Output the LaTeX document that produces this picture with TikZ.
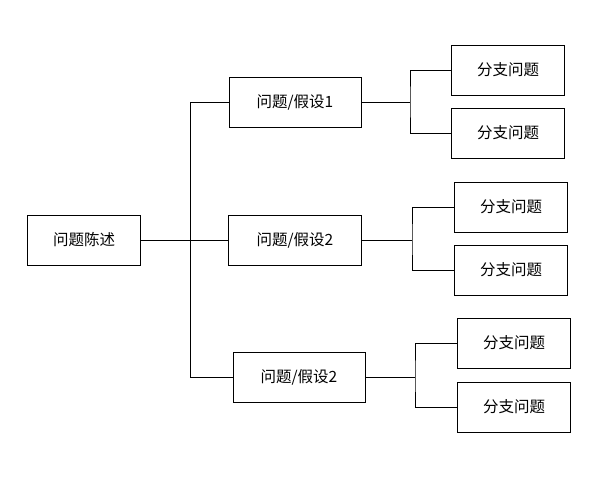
\documentclass[tikz,border=0pt]{standalone}
\usepackage{fontspec}
\newfontfamily\cjk{Noto Sans CJK SC}
\begin{document}
\begin{tikzpicture}[x=1pt,y=-1pt,
  box/.style={draw,line width=0.9pt,minimum height=50pt,inner sep=0pt,font=\cjk\fontsize{15.5}{18}\selectfont},
  ln/.style={line width=0.9pt}]
\useasboundingbox (0,0) rectangle (600,480);
\node[box,minimum width=113pt] (r) at (84,240) {问题陈述};
\node[box,minimum width=132pt] (h1) at (295,102) {问题/假设1};
\node[box,minimum width=133pt] (h2) at (295,240) {问题/假设2};
\node[box,minimum width=132pt] (h3) at (299,377) {问题/假设2};
\node[box,minimum width=113pt] (b1) at (508,70) {分支问题};
\node[box,minimum width=113pt] (b2) at (508,133) {分支问题};
\node[box,minimum width=113pt] (b3) at (511,207) {分支问题};
\node[box,minimum width=113pt] (b4) at (511,270) {分支问题};
\node[box,minimum width=113pt] (b5) at (514,343) {分支问题};
\node[box,minimum width=113pt] (b6) at (514,407) {分支问题};
\coordinate (j0) at (190.5,240);
\draw[ln] (r.east) -- (h2.west);
\draw[ln] (h1.west) -| (j0) |- (h3.west);
\coordinate (j1) at (410,102);
\coordinate (j2) at (412,240);
\coordinate (j3) at (415,377);
\draw[ln] (h1.east) -- (j1); \draw[ln] (b1.west) -| (j1) |- (b2.west);
\draw[ln] (h2.east) -- (j2); \draw[ln] (b3.west) -| (j2) |- (b4.west);
\draw[ln] (h3.east) -- (j3); \draw[ln] (b5.west) -| (j3) |- (b6.west);
\end{tikzpicture}
\end{document}
